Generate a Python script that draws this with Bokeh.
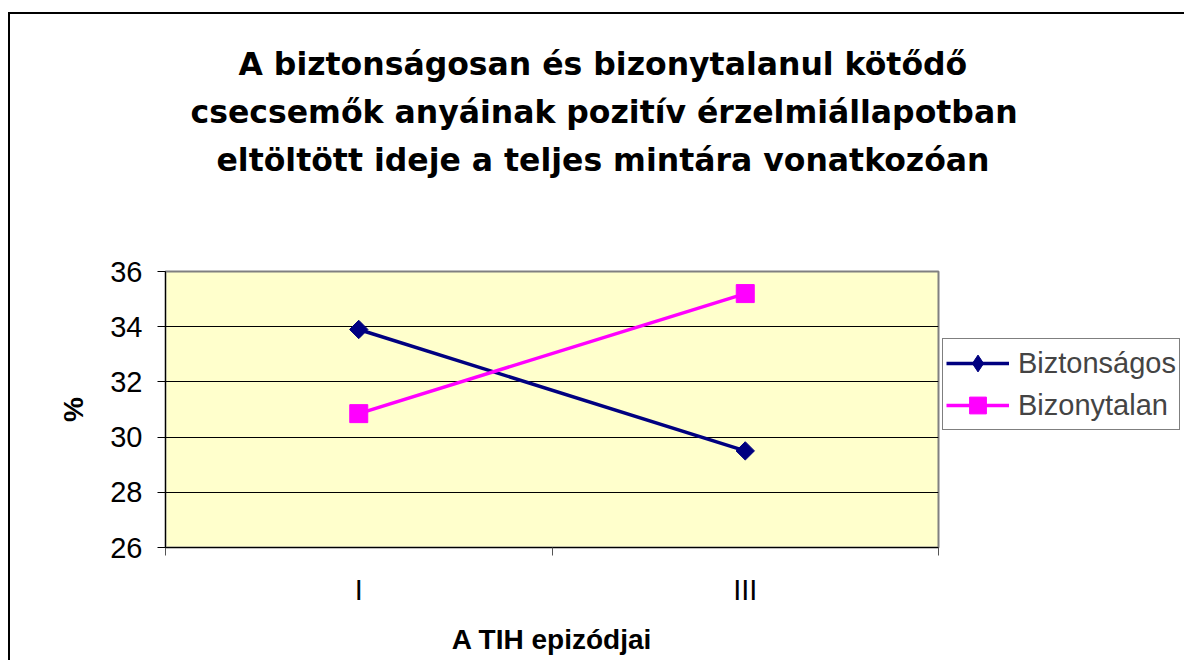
from bokeh.plotting import figure
from bokeh.models import Range1d, FixedTicker, Legend, LegendItem, Title
from bokeh.embed import file_html
from bokeh.resources import INLINE

# ---- data ----
title_lines = [
    "A biztonságosan és bizonytalanul kötődő",
    "csecsemők anyáinak pozitív érzelmiállapotban",
    "eltöltött ideje a teljes mintára vonatkozóan",
]
categories = ["I", "III"]
series_names = ["Biztonságos", "Bizonytalan"]
biztonsagos = [33.9, 29.5]
bizonytalan = [30.85, 35.2]
y_ticks = [26, 28, 30, 32, 34, 36]
x_label = "A TIH epizódjai"
y_label = "%"

# ---- layout constants (pixels) ----
FL, FT, FW, FH = 165, 271, 773, 276
FB = 113
FR = 246
title_offsets = [73, 25, 51]   # left offsets of the title lines from the frame's left edge

xs = [i + 0.5 for i in range(len(categories))]

p = figure(
    frame_width=FW, frame_height=FH,
    min_border_left=FL, min_border_right=FR,
    min_border_top=FT, min_border_bottom=FB,
    x_range=Range1d(0, len(categories)), y_range=Range1d(y_ticks[0], y_ticks[-1]),
    output_backend="svg", toolbar_location=None,
    background_fill_color="#FFFFCC", border_fill_color="white", border_fill_alpha=0,
    outline_line_color="#808080", outline_line_width=2,
)
p.styles = {
    "background": "linear-gradient(black, black) 8px 12px / 2px 2000px no-repeat, "
                  "linear-gradient(black, black) 8px 12px / 2000px 2px no-repeat, white",
}

# axes
AX_FONT = "Liberation Sans"
p.yaxis.ticker = FixedTicker(ticks=y_ticks)
p.yaxis.major_tick_out = 8
p.yaxis.major_tick_in = 0
p.yaxis.minor_tick_out = 0
p.yaxis.major_label_text_font = AX_FONT
p.yaxis.major_label_text_font_size = "29px"
p.yaxis.major_label_text_color = "black"
p.yaxis.major_label_standoff = 15
p.yaxis.axis_line_color = "black"
p.yaxis.major_tick_line_color = "black"
p.yaxis.axis_label = y_label
p.yaxis.axis_label_text_font = AX_FONT
p.yaxis.axis_label_text_font_style = "bold"
p.yaxis.axis_label_text_font_size = "28px"
p.yaxis.axis_label_text_color = "black"
p.yaxis.axis_label_standoff = 18

p.xaxis.ticker = FixedTicker(ticks=xs, minor_ticks=list(range(len(categories) + 1)))
p.xaxis.major_label_overrides = {x: c for x, c in zip(xs, categories)}
p.xaxis.major_tick_out = 0
p.xaxis.major_tick_in = 0
p.xaxis.minor_tick_out = 8
p.xaxis.minor_tick_in = 0
p.xaxis.minor_tick_line_color = "#555555"
p.xaxis.axis_line_color = "black"
p.xaxis.major_label_text_font = AX_FONT
p.xaxis.major_label_text_font_size = "29px"
p.xaxis.major_label_text_color = "black"
p.xaxis.major_label_standoff = 18
p.xaxis.axis_label = x_label
p.xaxis.axis_label_text_font = AX_FONT
p.xaxis.axis_label_text_font_style = "bold"
p.xaxis.axis_label_text_font_size = "28px"
p.xaxis.axis_label_text_color = "black"
p.xaxis.axis_label_standoff = 15

p.xgrid.visible = False
p.ygrid.ticker = FixedTicker(ticks=y_ticks[1:-1])
p.ygrid.grid_line_color = "black"
p.ygrid.grid_line_width = 1

# series
NAVY, MAGENTA = "#000080", "#FF00FF"
l1 = p.line(xs, biztonsagos, line_color=NAVY, line_width=3.5)
s1 = p.scatter(xs, biztonsagos, marker="square", angle=0.785398, size=13,
               fill_color=NAVY, line_color=NAVY)
l2 = p.line(xs, bizonytalan, line_color=MAGENTA, line_width=3.5)
s2 = p.scatter(xs, bizonytalan, marker="square", size=18,
               fill_color=MAGENTA, line_color=MAGENTA)
# hidden diamond renderer used only for the legend swatch
d1 = p.scatter(xs, biztonsagos, marker="diamond", size=18,
               fill_color=NAVY, line_color=NAVY, visible=False)

legend = Legend(
    items=[LegendItem(label=series_names[0], renderers=[l1, d1]),
           LegendItem(label=series_names[1], renderers=[l2, s2])],
    location=(4, 117), margin=0, padding=3, spacing=0,
    label_text_font=AX_FONT, label_text_font_size="29px",
    glyph_width=63, glyph_height=42, label_height=42, label_standoff=9,
    border_line_color="black", border_line_width=1,
    background_fill_color="white", background_fill_alpha=1,
    inactive_fill_alpha=0,
)
p.add_layout(legend, "right")

# spacer between frame and title block
p.add_layout(Title(text=" ", standoff=76, text_font_size="10px"), "above")
# title lines: closest to the frame first
for t, off in reversed(list(zip(title_lines, title_offsets))):
    p.add_layout(Title(
        text=t, align="left", standoff=10, offset=off,
        text_font="DejaVu Sans", text_font_style="bold", text_font_size="31.5px",
        text_color="black",
    ), "above")

open("out.html", "w").write(file_html(p, INLINE))
